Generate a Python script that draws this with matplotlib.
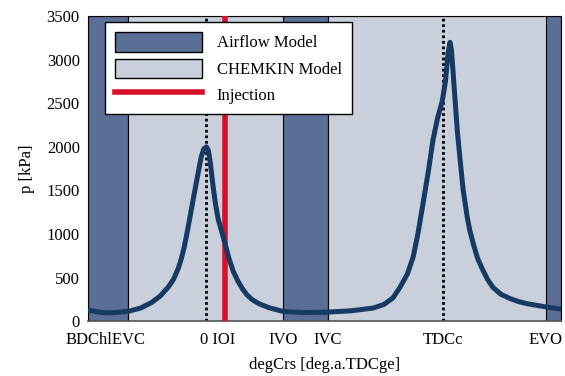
import numpy as np
import matplotlib
matplotlib.use("Agg")
import matplotlib.pyplot as plt
from matplotlib.patches import Patch
from matplotlib.lines import Line2D

plt.rcParams['font.family'] = ['Liberation Serif', 'DejaVu Serif']
plt.rcParams['font.size'] = 12

# crank angle [deg] and pressure [kPa]
deg = [-180, -165, -154, -140, -119, -100, -83, -70, -58, -50, -43, -38, -34, -30, -26,
       -20, -15, -12, -8, -4, 0, 3, 6, 10, 14, 18, 24, 28, 34, 41, 48, 55, 62, 70,
       80, 95, 117, 150, 184, 220, 254, 270, 284, 295, 306, 315, 322, 330, 338,
       345, 352, 359, 364, 368, 371, 373, 376, 379, 382, 387, 391, 397, 401, 407,
       413, 420, 428, 436, 448, 462, 475, 488, 505, 519, 540]
p = [126, 105, 95, 97, 112, 150, 215, 290, 390, 480, 600, 720, 840, 990, 1150,
     1400, 1600, 1720, 1880, 1975, 2000, 1960, 1820, 1560, 1340, 1170, 1010, 900, 730, 570, 460, 370, 300, 245,
     200, 155, 110, 98, 103, 118, 150, 190, 265, 390, 540, 740, 1000, 1354, 1720,
     2077, 2330, 2520, 2750, 3080, 3200, 3120, 2820, 2500, 2190, 1800, 1503, 1200, 1044, 870,
     720, 600, 480, 390, 310, 260, 225, 200, 178, 160, 138]

# event positions [deg]
evc = -119
ivo = 117
ivc = 185
evo = 517
inj = 28.5
tdc_ge = 0
tdc_c = 360

airflow = [(-180, evc), (ivo, ivc), (evo, 540)]
chemkin = [(evc, ivo), (ivc, evo)]

tick_pos = [-154, 17, 117, 185, 360, 517]
tick_lab = ['BDChlEVC', '0 IOI', 'IVO', 'IVC', 'TDCc', 'EVO']

dark = '#5b6f96'
light = '#c9d0dc'
curve = '#173a63'
red = '#d8102a'

fig = plt.figure(figsize=(5.65, 3.76), dpi=100)
ax = fig.add_axes([0.156, 0.146, 0.837, 0.811])

for a, b in airflow:
    ax.axvspan(a, b, facecolor=dark, edgecolor='black', lw=0.8, zorder=0)
for a, b in chemkin:
    ax.axvspan(a, b, facecolor=light, edgecolor='black', lw=0.8, zorder=0)

ax.axvline(tdc_ge, color='black', ls=(0, (1, 1)), lw=2, zorder=2)
ax.axvline(tdc_c, color='black', ls=(0, (1, 1)), lw=2, zorder=2)
ax.axvline(inj, color=red, lw=4, zorder=3)

ax.plot(deg, p, color=curve, lw=3.6, zorder=4, solid_capstyle='round',
        solid_joinstyle='round')

ax.set_xlim(-180, 540)
ax.set_ylim(0, 3500)
ax.set_yticks(np.arange(0, 3501, 500))
ax.set_xticks(tick_pos)
ax.set_xticklabels(tick_lab)
ax.tick_params(length=0, pad=6)
ax.tick_params(axis='x', pad=8)
ax.set_xlabel('degCrs [deg.a.TDCge]', labelpad=6)
ax.set_ylabel('p [kPa]', labelpad=8)
for s in ['top', 'left', 'right']:
    ax.spines[s].set_color('black')
    ax.spines[s].set_linewidth(0.8)
ax.spines['bottom'].set_color('#555555')
ax.spines['bottom'].set_linewidth(1.2)

handles = [Patch(facecolor=dark, edgecolor='black', lw=1),
           Patch(facecolor=light, edgecolor='black', lw=1),
           Line2D([], [], color=red, lw=4)]
leg = ax.legend(handles, ['Airflow Model', 'CHEMKIN Model', 'Injection'],
                loc='upper left', bbox_to_anchor=(0.036, 0.98), borderaxespad=0,
                fancybox=False, framealpha=1, edgecolor='black',
                handlelength=5.2, handleheight=1.4, handletextpad=0.9,
                labelspacing=0.42, borderpad=0.6)
leg.get_frame().set_linewidth(1)
leg.set_zorder(10)

fig.savefig('out.png', dpi=100)
